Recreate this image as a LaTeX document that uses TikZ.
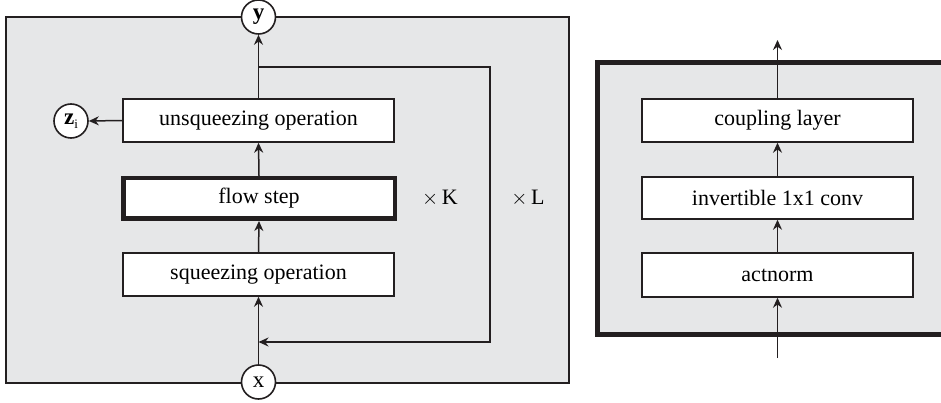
\documentclass[tikz,border=0pt]{standalone}
\usepackage{fontspec}
\setmainfont{Liberation Serif}
\usetikzlibrary{arrows.meta}
\definecolor{panel}{HTML}{E6E7E8}
\definecolor{ink}{HTML}{231F20}
\tikzset{
  box/.style={draw=ink, fill=white, line width=1.5pt, minimum width=271pt, minimum height=43pt, inner sep=0pt, font=\fontsize{22}{25}\selectfont},
  thickbox/.style={box, line width=4.5pt, minimum width=271.5pt, minimum height=40.5pt},
  var/.style={draw=ink, fill=white, circle, line width=1.6pt, minimum size=34pt, inner sep=0pt, font=\fontsize{23}{26}\selectfont},
  conn/.style={draw=ink, line width=1.5pt, -{Stealth[length=10pt,width=9pt]}},
  lab/.style={font=\fontsize{22}{25}\selectfont, inner sep=0pt}
}
\begin{document}
\begin{tikzpicture}[x=1pt,y=-1pt]
\useasboundingbox (0,0) rectangle (941,403);
\clip (0,0) rectangle (941,403);
% left panel
\draw[draw=ink, fill=panel, line width=1.5pt] (6,17) rectangle (569,383);
\node[box] (unsq) at (258.5,120.5) {unsqueezing operation};
\node[thickbox] (flow) at (259,198.5) {flow step};
\node[box] (sq) at (258.5,274.5) {squeezing operation};
\node[var] (y) at (258.5,17) {\textbf{y}};
\node[var] (x) at (258.5,382) {x};
\node[var] (z) at (71,121) {\textbf{z}\raisebox{-0.35ex}{\fontsize{13}{15}\selectfont i}};
\coordinate (b1) at (258.5,67);
\coordinate (c1) at (490,67);
\coordinate (c2) at (490,342);
\coordinate (b2) at (258.5,342);
\draw[conn] (unsq.north) -- (y.south);
\draw[conn] (flow.north) -- (unsq.south);
\draw[conn] (sq.north) -- (flow.south);
\draw[conn] (x.north) -- (sq.south);
\draw[conn] (unsq.west) -- (z.east);
\draw[conn] (b1) -- (c1) -- (c2) -- (b2);
\node[lab] (k) at (440,198) {$\times$\,K};
\node[lab] (l) at (528,198) {$\times$\,L};
% right panel
\draw[draw=ink, fill=panel, line width=5pt] (597.5,62.5) rectangle (980,334.5);
\node[box] (cl) at (777.5,120.5) {coupling layer};
\node[box, minimum height=42pt] (inv) at (777.5,198) {invertible 1x1 conv};
\node[box, minimum height=44pt] (act) at (777.5,275) {actnorm};
\coordinate (out) at (777.5,40);
\coordinate (in) at (777.5,358);
\draw[conn] (cl.north) -- (out);
\draw[conn] (inv.north) -- (cl.south);
\draw[conn] (act.north) -- (inv.south);
\draw[conn] (in) -- (act.south);
\end{tikzpicture}
\end{document}
